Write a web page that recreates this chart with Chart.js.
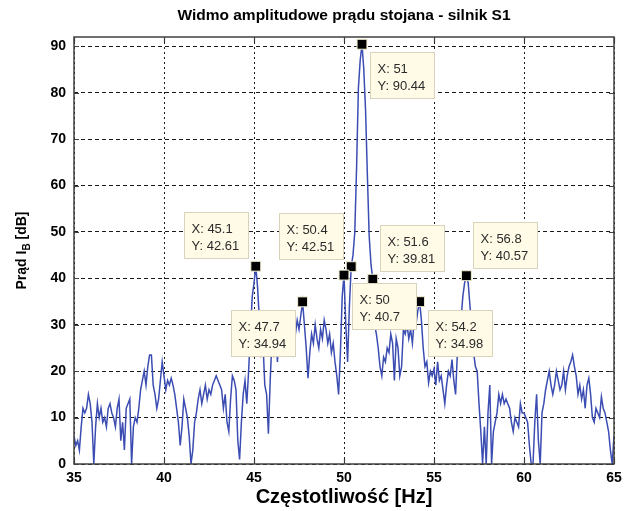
<!DOCTYPE html>
<html>
<head>
<meta charset="utf-8">
<script src="https://cdn.jsdelivr.net/npm/chart.js@4.4.1/dist/chart.umd.min.js"></script>
<style>
  html, body { margin: 0; padding: 0; background: #fff; }
  #wrap { width: 633px; height: 511px; }
</style>
</head>
<body>
<div id="wrap"><canvas id="spectrum"></canvas></div>
<script>
// spectrum sampled every 0.1 Hz from 35 Hz to 65 Hz
var fStart = 35
var fStep = 0.1
var amplitude = [
  6, 4, 5, 3, 8, 12, 11, 12, 15, 13,              // 35
  9, 0, 8, 13, 10, 12, 9, 10, 8, 12,              // 36
  13, 11, 10, 8, 12, 14, 5, 9, 3, 12,             // 37
  13, 14, 0, 8, 10, 9, 12, 16, 18, 20,            // 38
  17, 21, 23.5, 23.5, 17, 15, 12, 14, 18, 22,     // 39
  19, 16, 18, 17, 18.5, 17, 15, 12, 9, 4,         // 40
  8, 14, 12, 10, 6, 0, 3, 9, 11, 14,              // 41
  16, 13, 15, 17, 14, 16, 15, 17, 18, 19,         // 42
  18, 17, 16, 12, 15, 9, 7, 14, 19, 18,           // 43
  16, 5, 1, 9, 15, 18, 13, 20, 28, 36,            // 44
  39, 42.61, 38, 31, 24, 26, 17, 15, 6.5, 18,     // 45
  27, 23, 31, 22, 29, 25, 24, 31, 25, 27,         // 46
  30, 26, 24, 28, 31, 29, 32, 34.94, 30, 25,      // 47
  18.5, 24, 28, 26, 30, 27, 25, 29, 27, 31,       // 48
  29, 26, 28, 24, 26, 22, 19, 15, 24, 36,         // 49
  40.7, 30, 22, 34, 42.51, 45, 50, 64, 81, 87,    // 50
  90.44, 85, 76, 62, 49, 43, 39.81, 30, 28, 25,   // 51
  21, 19, 23, 22, 25, 24, 28, 26, 18, 27,         // 52
  25, 19, 21, 29, 28, 30, 27, 29, 26, 31,         // 53
  30, 33, 34.98, 31, 25, 21, 22, 17.5, 20, 19,    // 54
  20.5, 17, 22, 18, 19, 16, 13, 17, 20, 19,       // 55
  22.5, 18, 15, 24, 27, 31, 36, 39, 40.57, 39,    // 56
  34, 29, 24, 21, 20, 13, 7, 0, 8, 0,             // 57
  11, 17, 0, 7, 9, 11, 15, 13, 15, 13,            // 58
  14, 13, 12, 9, 7, 10, 9, 8, 13, 11,             // 59
  11, 10, 9, 4, 0, 0, 9, 15, 5, 0,                // 60
  11, 13, 16, 18, 20, 17, 15, 17, 20, 18,         // 61
  16, 17, 20, 16, 19, 21, 22, 23.5, 21, 19,       // 62
  15, 17, 14, 16, 12, 17, 18.5, 15, 10, 9,        // 63
  12, 11, 10, 14.5, 12, 11, 9, 7, 3, 0,           // 64
  6                                               // 65
]

// data cursors: frequency and which side of the marker the label box sits
var tipFreq = [45.1, 47.7, 50.4, 50, 51.6, 51, 54.2, 56.8]
var tipSide = ['tl', 'bl', 'tl', 'br', 'tr', 'br', 'br', 'tr']

var xTicks = [35, 40, 45, 50, 55, 60, 65]
var yTicks = [0, 10, 20, 30, 40, 50, 60, 70, 80, 90]

var points = amplitude.map(function (v, i) {
  return { x: +(fStart + i * fStep).toFixed(1), y: v }
})
var tipPoints = tipFreq.map(function (f) {
  return { x: f, y: amplitude[Math.round((f - fStart) / fStep)] }
})

var boxOffset = { br: [8, 8], tr: [7, -54], tl: [-72, -54], bl: [-72, 8] }
var family = '"Liberation Sans", Arial, sans-serif'

var decorations = {
  id: 'decorations',
  afterDatasetsDraw: function (chart) {
    var ctx = chart.ctx, a = chart.chartArea
    var xs = chart.scales.x, ys = chart.scales.y
    ctx.save()
    // axes box with inward ticks on all four sides
    ctx.strokeStyle = '#404040'
    ctx.lineWidth = 1.5
    ctx.strokeRect(a.left, a.top, a.right - a.left, a.bottom - a.top)
    ctx.lineWidth = 1.2
    ctx.beginPath()
    xTicks.forEach(function (t) {
      var px = Math.round(xs.getPixelForValue(t)) + 0.5
      ctx.moveTo(px, a.bottom); ctx.lineTo(px, a.bottom - 5)
      ctx.moveTo(px, a.top); ctx.lineTo(px, a.top + 5)
    })
    yTicks.forEach(function (t) {
      var py = Math.round(ys.getPixelForValue(t)) + 0.5
      ctx.moveTo(a.left, py); ctx.lineTo(a.left + 5, py)
      ctx.moveTo(a.right, py); ctx.lineTo(a.right - 5, py)
    })
    ctx.stroke()

    // data cursor labels
    ctx.font = '13px ' + family
    ctx.textBaseline = 'alphabetic'
    tipPoints.forEach(function (p, i) {
      var px = xs.getPixelForValue(p.x), py = ys.getPixelForValue(p.y)
      var off = boxOffset[tipSide[i]]
      var bx = Math.round(px + off[0]) + 0.5, by = Math.round(py + off[1]) + 0.5
      ctx.fillStyle = '#fffbe6'
      ctx.strokeStyle = '#d8d4bc'
      ctx.lineWidth = 1
      ctx.fillRect(bx, by, 64, 46)
      ctx.strokeRect(bx, by, 64, 46)
      ctx.fillStyle = '#2b2b2b'
      ctx.fillText('X: ' + p.x, bx + 7, by + 20)
      ctx.fillText('Y: ' + p.y, bx + 7, by + 37)
    })
    ctx.restore()
  },
  afterDraw: function (chart) {
    var ctx = chart.ctx, a = chart.chartArea
    var cx = (a.left + a.right) / 2, cy = (a.top + a.bottom) / 2
    ctx.save()
    ctx.fillStyle = '#000'
    ctx.textAlign = 'center'
    ctx.textBaseline = 'middle'
    ctx.font = 'bold 15.5px ' + family
    ctx.fillText('Widmo amplitudowe prądu stojana - silnik S1', cx, 16)
    ctx.font = 'bold 20px ' + family
    ctx.fillText('Częstotliwość [Hz]', cx, 497)

    // y title with subscript B
    ctx.translate(22, cy)
    ctx.rotate(-Math.PI / 2)
    ctx.textAlign = 'left'
    var main = 'Prąd I', tail = ' [dB]'
    var small = 'bold 10px ' + family
    var big = 'bold 14px ' + family
    ctx.font = big
    var w1 = ctx.measureText(main).width, w3 = ctx.measureText(tail).width
    ctx.font = small
    var w2 = ctx.measureText('B').width
    var x0 = -(w1 + w2 + w3) / 2
    ctx.font = big
    ctx.fillText(main, x0, 0)
    ctx.font = small
    ctx.fillText('B', x0 + w1, 5)
    ctx.font = big
    ctx.fillText(tail, x0 + w1 + w2, 0)
    ctx.restore()
  }
}

var tickFont = { family: family, size: 14, weight: 'bold' }

new Chart(document.getElementById('spectrum'), {
  type: 'line',
  data: {
    datasets: [{
      data: tipPoints,
      type: 'scatter',
      order: 0,
      pointStyle: 'rect',
      pointRadius: 7,
      pointBackgroundColor: '#000',
      pointBorderColor: '#f3efd2',
      pointBorderWidth: 1,
      showLine: false
    }, {
      data: points,
      order: 1,
      borderColor: '#3b4db2',
      borderWidth: 1.5,
      pointRadius: 0,
      tension: 0,
      fill: false
    }]
  },
  options: {
    responsive: true,
    maintainAspectRatio: false,
    animation: false,
    layout: { padding: { top: 37, right: 19, bottom: 0, left: 0 } },
    plugins: { legend: { display: false }, tooltip: { enabled: false } },
    scales: {
      x: {
        type: 'linear',
        min: 35, max: 65,
        afterFit: function (s) { s.height = 47 },
        afterBuildTicks: function (s) { s.ticks = xTicks.map(function (v) { return { value: v } }) },
        grid: { color: '#1a1a1a', lineWidth: 1, drawTicks: false },
        border: { display: false, dash: [2, 3] },
        ticks: { color: '#000', font: tickFont, padding: 6, maxRotation: 0 }
      },
      y: {
        min: 0, max: 92,
        afterFit: function (s) { s.width = 74 },
        afterBuildTicks: function (s) { s.ticks = yTicks.map(function (v) { return { value: v } }) },
        grid: { color: '#1a1a1a', lineWidth: 1, drawTicks: false },
        border: { display: false, dash: [4, 3] },
        ticks: { color: '#000', font: tickFont, padding: 8 }
      }
    }
  },
  plugins: [decorations]
})
</script>
</body>
</html>
